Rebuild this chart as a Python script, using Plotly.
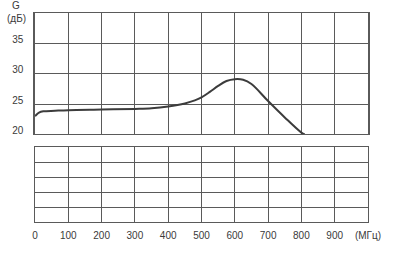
import plotly.graph_objects as go

freq_mhz = [0, 5, 12, 25, 60, 100, 200, 300, 350, 400, 450, 480, 500, 525, 550, 575, 600, 625, 650, 700, 750, 800, 810]
gain_db = [23.0, 23.3, 23.6, 23.8, 23.9, 24.0, 24.1, 24.2, 24.3, 24.6, 25.1, 25.6, 26.1, 27.0, 28.0, 28.8, 29.1, 29.0, 28.3, 25.5, 22.8, 20.3, 20.0]

x_tickvals = [0, 100, 200, 300, 400, 500, 600, 700, 800, 900, 1000]
x_ticktext = ["0", "100", "200", "300", "400", "500", "600", "700", "800", "900", "(МГц)"]
y_tickvals = [20, 25, 30, 35]
y_ticktext = ["20", "25", "30", "35"]

grid = "#5a5a5a"
txt = "#3a3a3a"
font = dict(family="Liberation Sans, Arial, sans-serif", size=10, color=txt)

fig = go.Figure()
fig.add_trace(go.Scatter(x=freq_mhz, y=gain_db, mode="lines", line=dict(color="#3c3c3c", width=2, shape="spline"),
                         xaxis="x2", yaxis="y", showlegend=False, hoverinfo="skip"))
fig.add_trace(go.Scatter(x=[], y=[], xaxis="x", yaxis="y2", showlegend=False))

fig.update_layout(
    width=393, height=255,
    margin=dict(l=34, r=24, t=12, b=33),
    paper_bgcolor="white", plot_bgcolor="white",
    font=font,
    xaxis=dict(domain=[0, 1], anchor="y2", range=[0, 1000], tickvals=x_tickvals, ticktext=x_ticktext,
               showgrid=True, gridcolor=grid, gridwidth=1, showline=True, linecolor=grid, linewidth=1, mirror=True,
               ticks="outside", ticklen=4, tickcolor="rgba(0,0,0,0)", zeroline=False, tickfont=font),
    xaxis2=dict(domain=[0, 1], anchor="y", range=[0, 1000], matches="x", tickvals=x_tickvals,
                showticklabels=False, showgrid=True, gridcolor=grid, gridwidth=1,
                showline=True, linecolor=grid, linewidth=1, mirror=True, zeroline=False),
    yaxis=dict(domain=[0.419, 1], anchor="x2", range=[20, 40], tickvals=y_tickvals, ticktext=y_ticktext,
               showgrid=True, gridcolor=grid, gridwidth=1, showline=True, linecolor=grid, linewidth=1.5, mirror=True,
               ticks="outside", ticklen=8, tickcolor="rgba(0,0,0,0)", zeroline=False, tickfont=font,
               ticklabelshift=-4),
    yaxis2=dict(domain=[0, 0.357], anchor="x", range=[0, 5], dtick=1, showticklabels=False,
                showgrid=True, gridcolor=grid, gridwidth=1, showline=True, linecolor=grid, linewidth=1, mirror=True,
                zeroline=False),
    annotations=[
        dict(text="G", x=-0.057, y=1.035, xref="paper", yref="paper", showarrow=False, font=font,
             xanchor="center", yanchor="middle"),
        dict(text="(дБ)", x=-0.057, y=0.975, xref="paper", yref="paper", showarrow=False, font=font,
             xanchor="center", yanchor="middle"),
    ],
)

fig.write_html("out.html")
